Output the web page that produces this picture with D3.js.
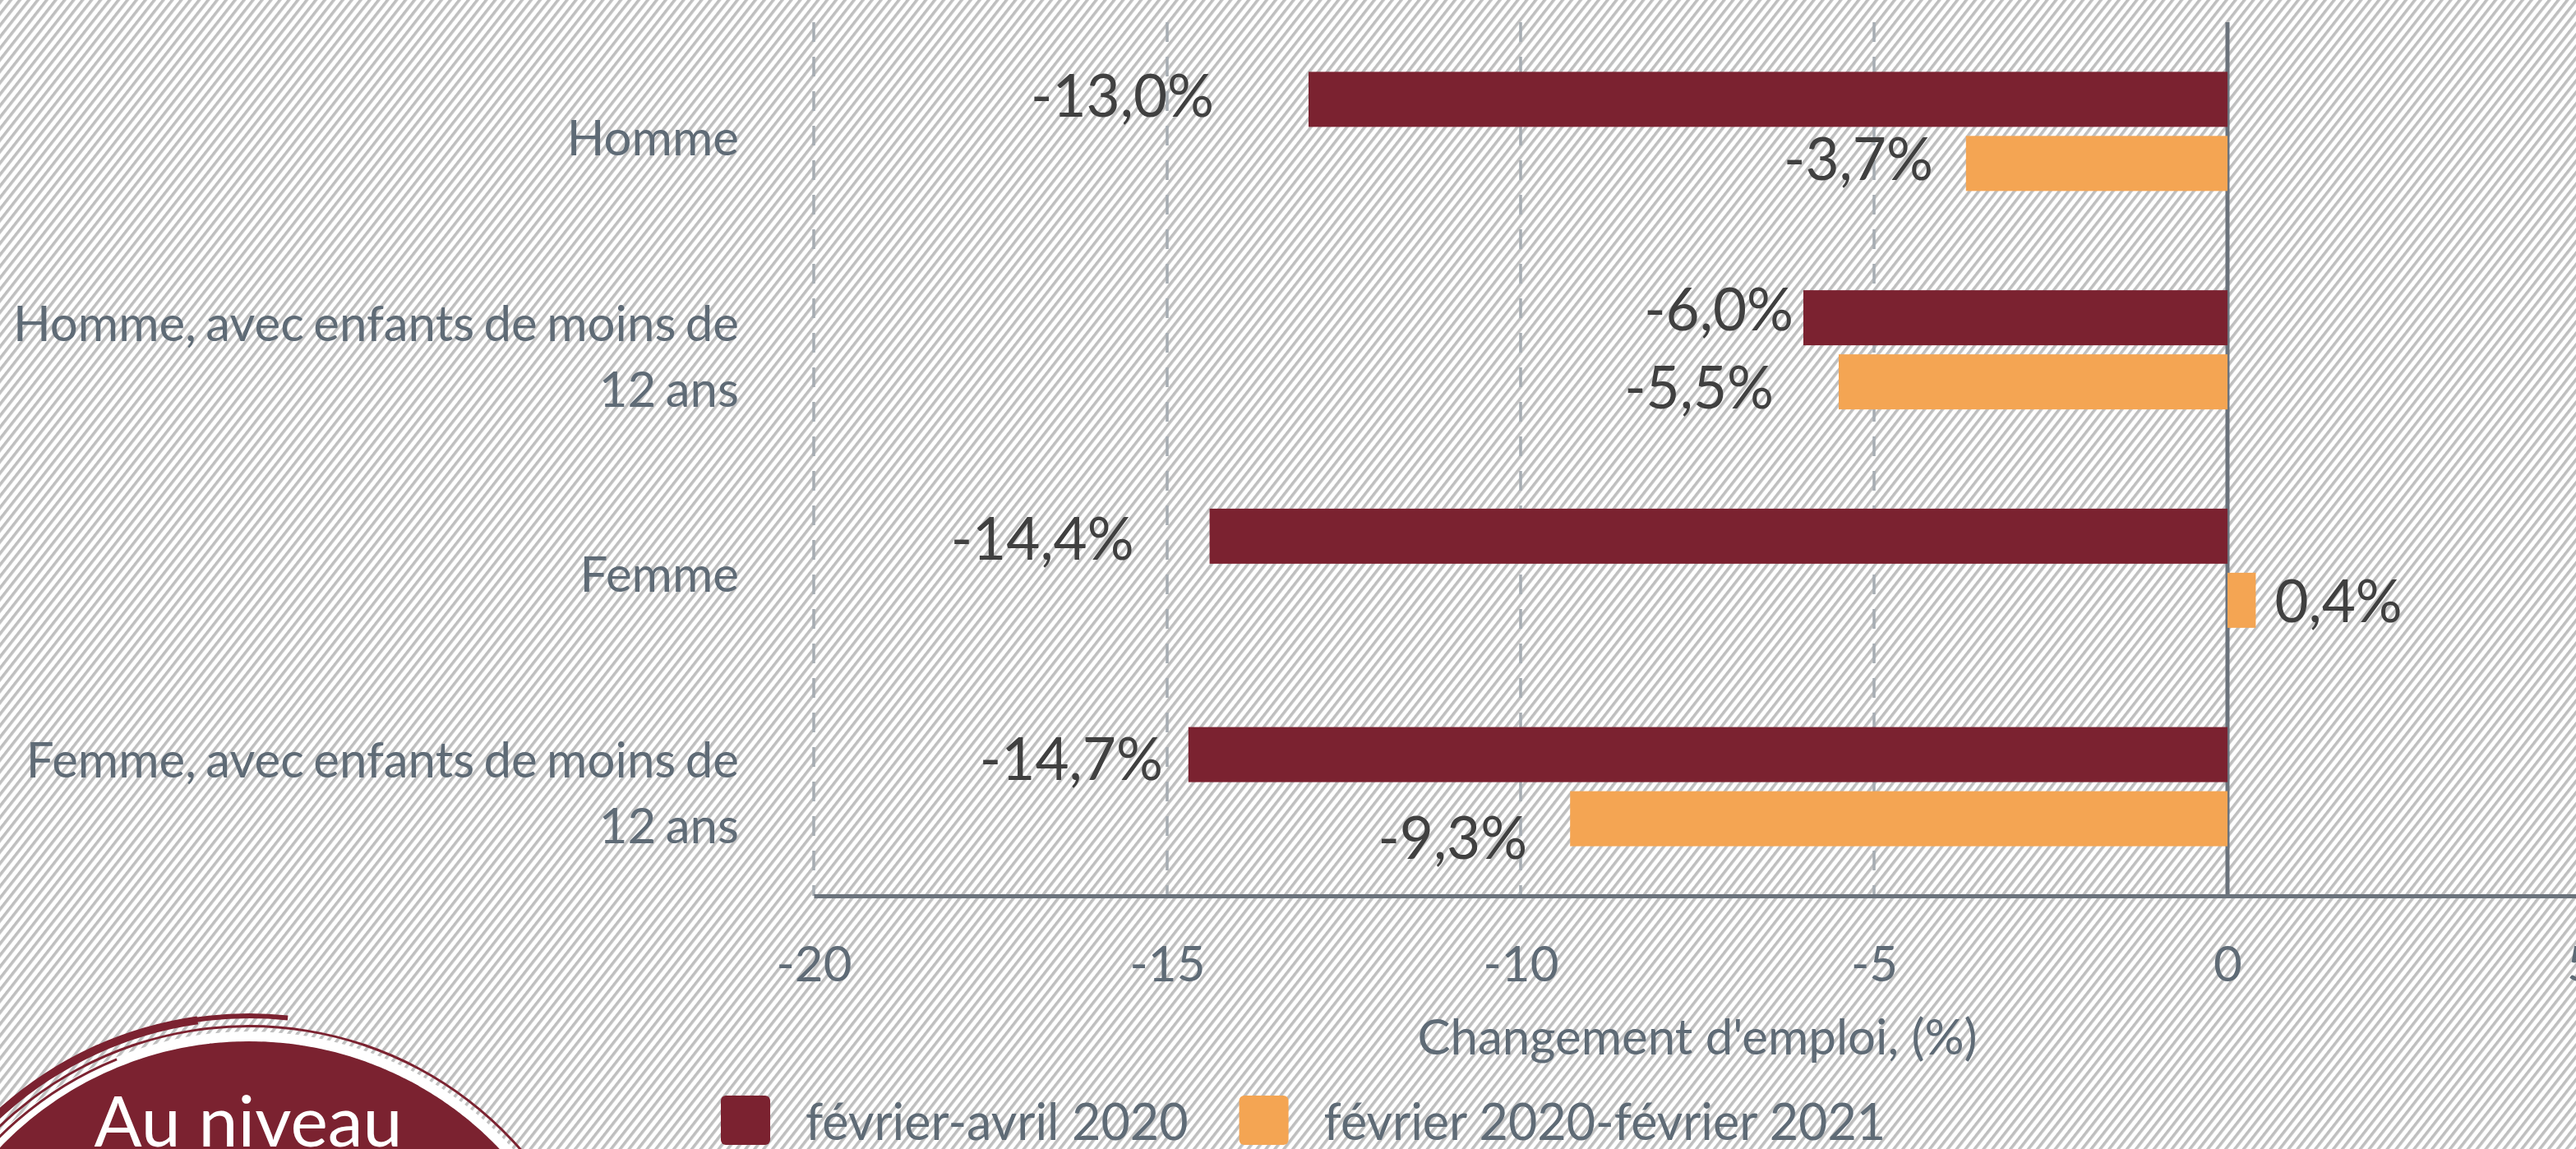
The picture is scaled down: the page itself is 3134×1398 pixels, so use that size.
<!DOCTYPE html>
<html>
<head>
<meta charset="utf-8">
<script src="https://cdn.jsdelivr.net/npm/d3@7"></script>
<style>
  body { margin: 0; background: #fff; }
  svg { display: block; font-family: Lato, "Open Sans", sans-serif; }
</style>
</head>
<body>
<svg id="chart" width="3134" height="1398"></svg>
<script>
// data
let categories = ["Homme", "Homme, avec enfants de moins de 12 ans", "Femme", "Femme, avec enfants de moins de 12 ans"];
let seriesNames = ["février-avril 2020", "février 2020-février 2021"];
let aprilValues = [-13.0, -6.0, -14.4, -14.7];
let yearValues = [-3.7, -5.5, 0.4, -9.3];
let tickValues = [-20, -15, -10, -5, 0, 5];
let axisTitle = "Changement d'emploi, (%)";
let badgeText = "Au niveau";

// layout / style
let colors = ["#7b2230", "#f4a553"];
let textGray = "#5f6b76";
// hand nudges of the value labels (px), as placed in the original
let labelNudge = [
  [[-103, -4], [0, -10], [-80, 4], [-19, 6]],
  [[-28, -5], [-67, 7], [11, 2], [-40, 24]]
];

var drawChart = function() {
  let svg = d3.select("#chart");
  let width = 3134, height = 1398;

  // striped background
  let defs = svg.append("defs");
  let pat = defs.append("pattern")
    .attr("id", "stripes")
    .attr("patternUnits", "userSpaceOnUse")
    .attr("width", 8.6).attr("height", 8.6)
    .attr("patternTransform", "rotate(38)");
  pat.append("rect").attr("width", 8.6).attr("height", 8.6).attr("fill", "#fff");
  pat.append("rect").attr("width", 3.6).attr("height", 8.6).attr("fill", "#bfbfbf");
  svg.append("rect").attr("width", width).attr("height", height).attr("fill", "url(#stripes)");

  let plotTop = 27, plotBottom = 1090;
  let x = d3.scaleLinear().domain([-20, 5]).range([990, 3140]);
  let y0 = d3.scaleBand().domain(categories).range([plotTop, plotBottom])
    .paddingInner(0.4544).paddingOuter(0.2272);
  let y1 = d3.scaleBand().domain([0, 1]).range([0, y0.bandwidth()]).paddingInner(0.141);

  let plot = svg.append("g").attr("id", "plot");

  // dashed gridlines
  plot.append("g").selectAll("line")
    .data(tickValues.filter(d => d < 0))
    .join("line")
    .attr("x1", d => x(d)).attr("x2", d => x(d))
    .attr("y1", plotTop).attr("y2", plotBottom)
    .attr("stroke", "#a7adb3")
    .attr("stroke-width", 3.5)
    .attr("stroke-dasharray", "24,18");

  // zero line
  plot.append("line")
    .attr("x1", x(0)).attr("x2", x(0))
    .attr("y1", plotTop).attr("y2", plotBottom)
    .attr("stroke", "#6b737c").attr("stroke-width", 5);

  // bars
  let series = [aprilValues, yearValues];
  let rows = [];
  series.forEach((vals, s) => vals.forEach((v, i) => rows.push({s: s, i: i, v: v})));

  plot.append("g").selectAll("rect")
    .data(rows)
    .join("rect")
    .attr("x", d => x(Math.min(0, d.v)))
    .attr("width", d => Math.abs(x(d.v) - x(0)))
    .attr("y", d => y0(categories[d.i]) + y1(d.s))
    .attr("height", y1.bandwidth())
    .attr("fill", d => colors[d.s]);

  // value labels
  let fmt = v => v.toFixed(1).replace(".", ",") + "%";
  plot.append("g").selectAll("text")
    .data(rows)
    .join("text")
    .attr("x", d => x(d.v) + (d.v < 0 ? -12 : 12) + labelNudge[d.s][d.i][0])
    .attr("y", d => y0(categories[d.i]) + y1(d.s) + y1.bandwidth() / 2 + 25 + labelNudge[d.s][d.i][1])
    .attr("text-anchor", d => d.v < 0 ? "end" : "start")
    .attr("font-size", 71)
    .attr("fill", "#404040")
    .text(d => fmt(d.v));

  // x axis
  let xAxis = d3.axisBottom(x).tickValues(tickValues).tickSize(0).tickPadding(61)
    .tickFormat(d => String(d));
  let xGroup = plot.append("g").attr("id", "x-axis")
    .attr("transform", "translate(0," + plotBottom + ")")
    .call(xAxis);
  xGroup.select(".domain").attr("stroke", "#6b737c").attr("stroke-width", 5);
  xGroup.selectAll("text")
    .attr("font-family", "Lato")
    .attr("font-size", 60)
    .attr("fill", textGray);

  plot.append("text")
    .attr("x", (x(-20) + x(5)) / 2)
    .attr("y", 1283)
    .attr("text-anchor", "middle")
    .attr("font-size", 60)
    .attr("fill", textGray)
    .text(axisTitle);

  // category labels
  let yAxis = d3.axisLeft(y0).tickSize(0).tickPadding(0);
  let yGroup = plot.append("g").attr("id", "y-axis")
    .attr("transform", "translate(899,0)")
    .call(yAxis);
  yGroup.select(".domain").remove();
  yGroup.selectAll("text")
    .attr("font-family", "Lato")
    .attr("font-size", 60)
    .attr("word-spacing", -4)
    .attr("fill", textGray)
    .attr("dy", null)
    .each(function(d) {
      let t = d3.select(this);
      let words = d.split(" ");
      let lines = [], cur = [];
      t.text("");
      let probe = t.append("tspan");
      words.forEach(w => {
        probe.text(cur.concat(w).join(" "));
        if (cur.length && probe.node().getComputedTextLength() > 905) {
          lines.push(cur.join(" "));
          cur = [w];
        } else {
          cur.push(w);
        }
      });
      lines.push(cur.join(" "));
      probe.remove();
      let first = 29 - (lines.length - 1) * 40;
      lines.forEach((ln, k) => {
        t.append("tspan").attr("x", 0).attr("y", first + k * 80).text(ln);
      });
    });

  // legend
  let legend = svg.append("g").attr("id", "legend");
  let lx = 877;
  seriesNames.forEach((name, s) => {
    legend.append("rect")
      .attr("x", lx).attr("y", 1333)
      .attr("width", 60).attr("height", 60)
      .attr("rx", 6)
      .attr("fill", colors[s]);
    let txt = legend.append("text")
      .attr("x", lx + 103).attr("y", 1387)
      .attr("font-size", 61)
      .attr("fill", textGray)
      .text(name);
    lx = lx + 103 + txt.node().getComputedTextLength() + 62;
  });

  // badge
  let badge = svg.append("g").attr("transform", "translate(303,1687)");
  let r = 420;
  let deg = Math.PI / 180;
  badge.append("path")
    .attr("d", d3.arc()({innerRadius: r, outerRadius: r + 12, startAngle: -80 * deg, endAngle: 80 * deg}))
    .attr("fill", "#fff");
  badge.append("circle").attr("r", r).attr("fill", colors[0]);
  badge.append("path")
    .attr("d", d3.arc()({innerRadius: r + 17, outerRadius: r + 20, startAngle: -75 * deg, endAngle: 75 * deg}))
    .attr("fill", colors[0]);
  badge.append("path")
    .attr("d", d3.arc()({innerRadius: r + 8, outerRadius: r + 11, startAngle: -60 * deg, endAngle: -22 * deg}))
    .attr("fill", colors[0]);
  badge.append("path")
    .attr("d", d3.arc()({innerRadius: r + 25, outerRadius: r + 35, startAngle: -75 * deg, endAngle: -8 * deg}))
    .attr("fill", colors[0]);
  badge.append("path")
    .attr("d", d3.arc()({innerRadius: r + 28, outerRadius: r + 34, startAngle: -10 * deg, endAngle: 6 * deg, cornerRadius: 3}))
    .attr("fill", colors[0]);
  badge.append("text")
    .attr("x", -1).attr("y", -292)
    .attr("text-anchor", "middle")
    .attr("font-size", 86)
    .attr("fill", "#fff")
    .text(badgeText);
};

drawChart();
</script>
</body>
</html>
